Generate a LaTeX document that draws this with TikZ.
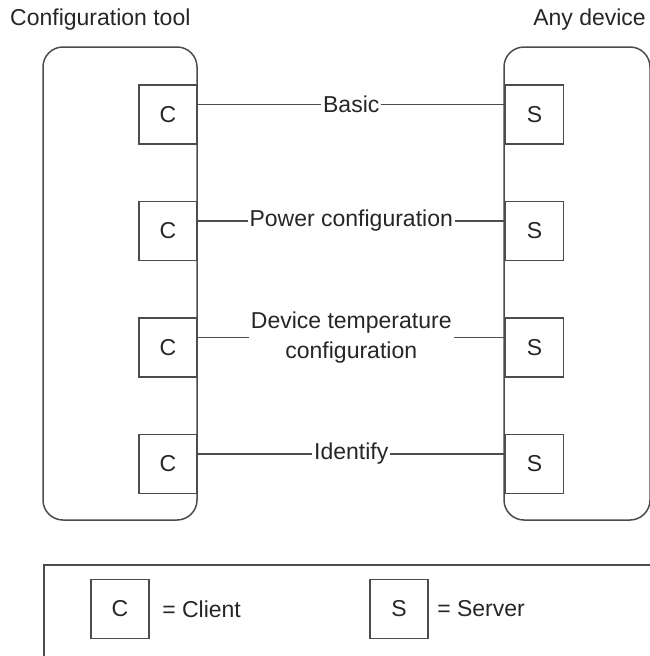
\documentclass[tikz,border=0pt]{standalone}
\usepackage{fontspec}
\setmainfont{Liberation Sans}
\usepackage{tikz}
\usetikzlibrary{positioning}
\tikzset{unit box/.style={rectangle,draw=black!70,line width=1.5pt,minimum width=58pt,minimum height=59pt,inner sep=0pt},
  side box/.style={rectangle,rounded corners=20pt,draw=black!70,line width=1.5pt,minimum width=154pt,minimum height=473pt},
  link label/.style={fill=white,inner sep=2pt,align=center,text=black!85},
}

\begin{document}
\begin{tikzpicture}[x=1pt,y=-1pt,font=\fontsize{23}{30}\selectfont,text=black!85]
		\useasboundingbox (0,0) rectangle (649,656);
		\node[side box] (tool) at (120,283.5) {};
		\node[side box,minimum width=146pt] (device) at (577,283.5) {};
		\node[anchor=west,inner sep=0pt] (toolname) at (10,20) {Configuration tool};
		\node[anchor=east,inner sep=0pt] (devicename) at (646,20) {Any device};
		
		\node[unit box] (C1) at (168,114.5) {C};
		\node[unit box] (C2) [below=56pt of C1] {C};
		\node[unit box] (C3) [below=56pt of C2] {C};
		\node[unit box] (C4) [below=56pt of C3] {C};
		\node[unit box] (S1) [right=307pt of C1] {S};
		\node[unit box] (S2) [right=307pt of C2] {S};
		\node[unit box] (S3) [right=307pt of C3] {S};
		\node[unit box] (S4) [right=307pt of C4] {S};
		
		\path[draw,black!70,line width=1.5pt]
		([yshift=10pt]C1.east) edge node[link label] {Basic} ([yshift=10pt]S1.west)
		([yshift=10pt]C2.east) edge node[link label] {Power configuration} ([yshift=10pt]S2.west)
		([yshift=10pt]C3.east) edge node[link label] {Device temperature\\configuration} ([yshift=10pt]S3.west)
		([yshift=10pt]C4.east) edge node[link label] {Identify} ([yshift=10pt]S4.west);
		
		% legend
		\node[draw=black!70,line width=1.5pt,anchor=north west,minimum width=612pt,minimum height=100pt] (legend) at (43,564) {};
		\node[unit box] (keyC) at (120,609) {C};
		\node (keyCtext) [right=9pt of keyC] {= Client};
		\node[unit box] (keyS) at (399,609) {S};
		\node (keyStext) [right=5pt of keyS] {= Server};
	\end{tikzpicture}
\end{document}
